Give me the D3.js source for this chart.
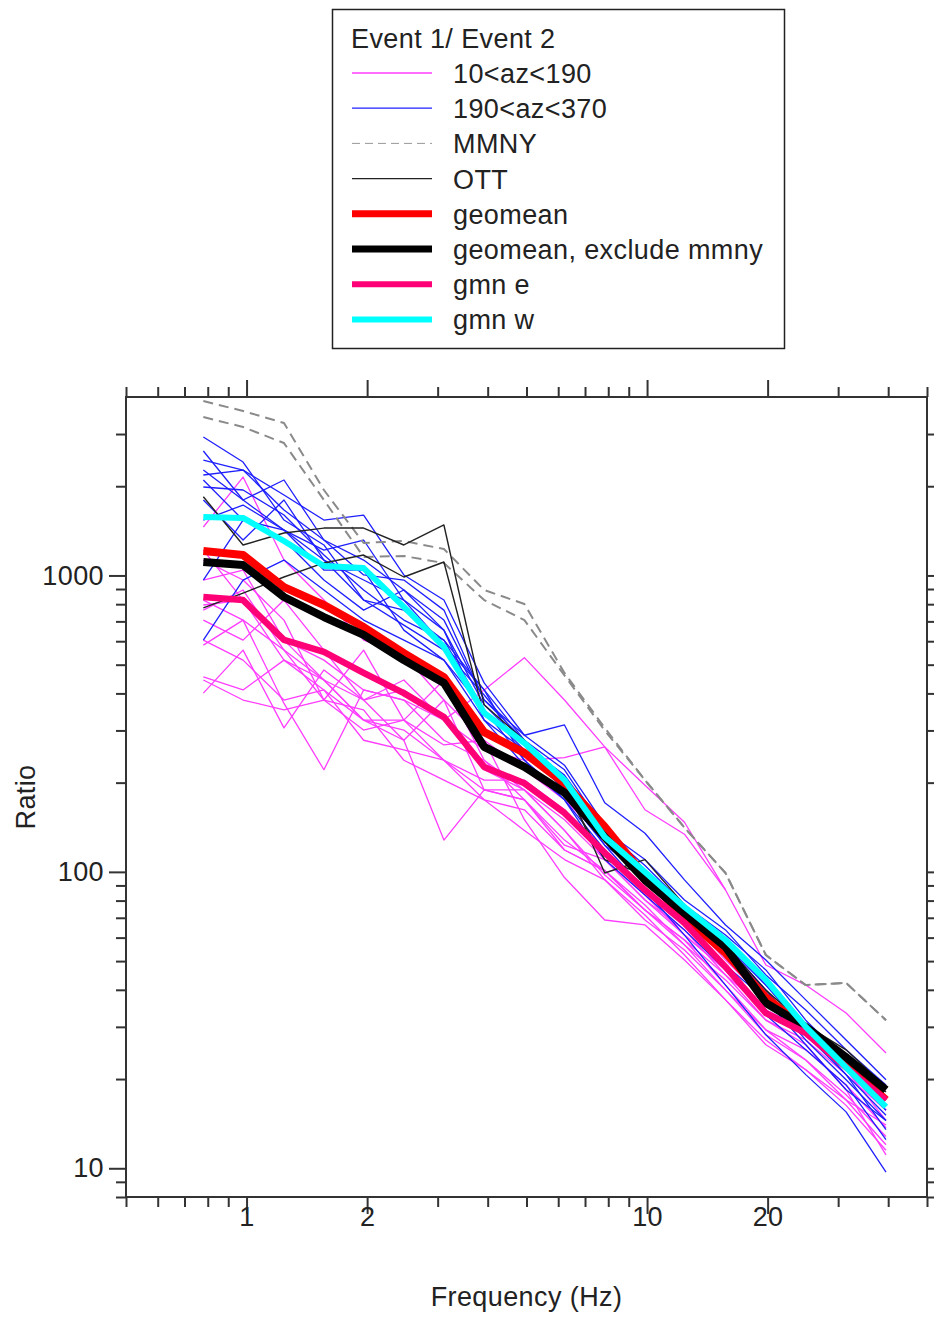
<!DOCTYPE html>
<html>
<head>
<meta charset="utf-8">
<script src="https://cdn.jsdelivr.net/npm/d3@7"></script>
<style>
  body { margin: 0; background: #fff; }
  svg text { font-family: "Liberation Sans", Arial, sans-serif; font-size: 27px; fill: #222; letter-spacing: 0.4px; }
</style>
</head>
<body>
<div id="chart"></div>
<script>
// frequencies (Hz) of every spectral ratio point
const freqs = [0.78, 0.98, 1.24, 1.56, 1.96, 2.47, 3.11, 3.92, 4.94, 6.22, 7.84, 9.88, 12.4, 15.7, 19.8, 24.9, 31.4, 39.5];

// stations 10<az<190
const az10to190 = [
  [1457, 2148, 1127, 826, 605, 538, 380, 278, 221, 175, 128, 94, 71.5, 50.4, 37.0, 30.4, 23.2, 17.0],
  [1127, 965, 707, 380, 560, 325, 444, 238, 189, 150, 110, 80.4, 63.7, 44.9, 31.6, 27.1, 20.7, 15.7],
  [795, 826, 518, 411, 325, 278, 380, 189, 175, 118.5, 101, 74.3, 58.9, 41.5, 29.3, 25.1, 19.1, 13.7],
  [707, 605, 826, 560, 380, 444, 325, 221, 189, 138, 94, 68.8, 54.5, 39.9, 28.2, 23.2, 17.7, 12.8],
  [582, 707, 370, 221, 411, 380, 278, 238, 175, 128, 101, 77.3, 56.7, 43.2, 31.6, 26.1, 18.4, 11.1],
  [455, 411, 518, 444, 325, 325, 238, 204, 204, 162, 110, 83.6, 61.2, 46.7, 32.9, 28.2, 21.5, 14.5],
  [401, 560, 306, 480, 380, 278, 128, 189, 189, 138, 97.6, 74.3, 56.7, 39.9, 29.3, 23.2, 17.0, 12.0],
  [965, 1043, 605, 518, 411, 380, 325, 411, 528, 380, 264, 196, 147, 86.9],
  [764, 893, 560, 444, 380, 411, 325, 258, 238, 243, 264, 162, 134, 86.9, 48.5, 41.5, 33.4, 24.5],
  [605, 518, 380, 411, 278, 258, 238, 175, 162, 118.5, 101, 74.3, 58.9, 44.9, 34.2, 29.3, 22.3, 17.0],
  [826, 707, 560, 380, 352, 238, 204, 175, 138, 110, 94, 71.5, 52.4, 37.0, 27.1, 21.5, 16.3, 11.5],
  [444, 380, 352, 380, 301, 325, 268, 278, 150, 95.7, 68.8, 66.2, 50.4, 37.0, 26.1, 21.5, 17.0, 14.0],
  [1218, 826, 605, 444, 325, 301, 238, 189, 175, 123, 110, 80.4, 61.2, 46.7, 34.2, 29.3, 21.5, 15.7]
];

// stations 190<az<370
const az190to370 = [
  [2931, 2413, 1538, 1267, 826, 764, 605, 411, 278, 221, 138, 110, 80.4, 63.7, 44.9, 34.2, 25.1, 19.1],
  [2630, 1797, 2099, 1317, 1127, 893, 707, 380, 289, 229, 144, 101, 77.3, 61.2, 46.7, 31.6, 23.2, 17.0],
  [2182, 2268, 1868, 1538, 1599, 1004, 826, 434, 289, 313, 171, 135, 94, 66.2, 50.4, 37.0, 27.1, 19.9],
  [2099, 1538, 1423, 1127, 965, 826, 654, 366, 268, 212, 138, 101, 77.3, 58.9, 41.5, 29.3, 21.5, 15.7],
  [1988, 1942, 1599, 1172, 893, 707, 605, 352, 258, 189, 128, 94, 74.3, 56.7, 39.9, 28.2, 20.7, 15.1],
  [1797, 1317, 1797, 1127, 826, 680, 560, 395, 268, 189, 123, 97.6, 71.5, 54.5, 38.4, 27.1, 19.9, 14.5],
  [965, 1538, 1317, 965, 764, 893, 654, 325, 258, 196, 138, 105, 77.3, 56.7, 41.5, 29.3, 20.7, 13.5],
  [605, 965, 1127, 893, 707, 605, 518, 352, 238, 175, 118.5, 86.9, 61.2, 41.5, 28.2, 20.7, 15.5, 9.7],
  [2451, 2268, 1662, 1317, 1004, 965, 764, 380, 278, 204, 133, 97.6, 71.5, 54.5, 39.9, 28.2, 21.5, 16.3],
  [2268, 1797, 1423, 1218, 1317, 826, 582, 411, 238, 182, 123, 86.9, 66.2, 48.5, 37.0, 26.1, 18.4, 14.5],
  [1538, 1728, 1423, 1043, 1043, 654, 518, 325, 229, 175, 110, 83.6, 63.7, 46.7, 32.9, 25.1, 19.1, 12.5]
];

const mmny = [
  [3877, 3587, 3268, 1942, 1287, 1307, 1228, 893, 801, 469, 306, 204, 141, 99.1, 52.4, 41.5, 42.2, 31.6],
  [3424, 3168, 2797, 1797, 1154, 1163, 1101, 826, 707, 460, 300, 204, 141, 99.1, 52.4, 41.5, 42.2, 31.6]
];

const ott = [
  [1843, 1267, 1391, 1445, 1445, 1267, 1480, 366, 278, 204, 99.1, 110, 77.3, 56.6, 39.9, 30.4, 25.1, 18.8],
  [777, 872, 988, 1102, 1172, 988, 1110, 338, 268, 189, 110, 97.6, 74.3, 54.5, 38.4, 29.3, 24.1, 18.1]
];

const geomean = [1209, 1172, 914, 795, 670, 547, 454, 296, 252, 199, 142, 96.8, 70.4, 53.2, 37.8, 29.3, 22.6, 17.0];
const geomeanNoMmny = [1110, 1084, 846, 724, 630, 518, 434, 264, 226, 185, 131, 93.8, 72.6, 55.8, 36.1, 30.0, 23.7, 18.4];
const gmnE = [846, 826, 606, 552, 469, 401, 333, 226, 199, 158, 116, 86.8, 67.2, 47.8, 33.4, 28.6, 21.9, 17.0];
const gmnW = [1574, 1563, 1307, 1076, 1059, 783, 574, 344, 272, 204, 131, 99.9, 76.1, 58.9, 43.2, 30.0, 21.9, 16.1];

const legendTitle = "Event 1/ Event 2";
const legendLabels = ["10<az<190", "190<az<370", "MMNY", "OTT", "geomean", "geomean, exclude mmny", "gmn e", "gmn w"];

const xMajor = [1, 2, 10, 20];
const xMinor = [0.5, 0.6, 0.7, 0.8, 0.9, 3, 4, 5, 6, 7, 8, 9, 30, 40, 50];
const yMajor = [10, 100, 1000];
const yMinor = [8, 9, 20, 30, 40, 50, 60, 70, 80, 90, 200, 300, 400, 500, 600, 700, 800, 900, 2000, 3000];

const width = 934, height = 1319;
const plot = { left: 126, top: 397, right: 927, bottom: 1197 };

const svg = d3.select("#chart").append("svg")
  .attr("width", width)
  .attr("height", height);

svg.append("rect").attr("width", width).attr("height", height).attr("fill", "#fff");

const x = d3.scaleLog().domain([0.5, 50]).range([plot.left, plot.right]);
const y = d3.scaleLog().domain([8, 4000]).range([plot.bottom, plot.top]);

const line = d3.line().x(d => x(d[0])).y(d => y(d[1]));
const pts = vals => vals.map((v, i) => [freqs[i], v]);

const lines = svg.append("g")
  .attr("fill", "none")
  .attr("stroke-linejoin", "round");

function drawSeries(data, color, w, dash) {
  lines.append("g").selectAll("path")
    .data(data)
    .join("path")
    .attr("d", d => line(pts(d)))
    .attr("stroke", color)
    .attr("stroke-width", w)
    .attr("stroke-dasharray", dash || null);
}

drawSeries(az10to190, "#ff3cff", 1.3);
drawSeries(az190to370, "#1f1fff", 1.3);
drawSeries(mmny, "#8a8a8a", 2, "10,6");
drawSeries(ott, "#222", 1.4);
drawSeries([geomean], "#ff0000", 8);
drawSeries([geomeanNoMmny], "#000", 8);
drawSeries([gmnE], "#ff0077", 6.5);
drawSeries([gmnW], "#00ffff", 6);

// frame
svg.append("rect")
  .attr("x", plot.left).attr("y", plot.top)
  .attr("width", plot.right - plot.left).attr("height", plot.bottom - plot.top)
  .attr("fill", "none").attr("stroke", "#333").attr("stroke-width", 2);

function styleAxis(g) {
  g.select(".domain").remove();
  g.selectAll(".tick line").attr("stroke", "#333").attr("stroke-width", 2);
  g.selectAll("text").attr("fill", "#222").attr("font-size", null).attr("font-family", null);
}

const h = plot.bottom;
// bottom
svg.append("g").attr("transform", `translate(0,${h})`)
  .call(d3.axisBottom(x).tickValues(xMinor).tickSize(10).tickFormat(""))
  .call(styleAxis);
svg.append("g").attr("transform", `translate(0,${h})`)
  .call(d3.axisBottom(x).tickValues(xMajor).tickSize(17).tickPadding(-7).tickFormat(d3.format("d")))
  .call(styleAxis);
// top
svg.append("g").attr("transform", `translate(0,${plot.top})`)
  .call(d3.axisTop(x).tickValues(xMinor).tickSize(10).tickFormat(""))
  .call(styleAxis);
svg.append("g").attr("transform", `translate(0,${plot.top})`)
  .call(d3.axisTop(x).tickValues(xMajor).tickSize(17).tickFormat(""))
  .call(styleAxis);
// left
svg.append("g").attr("transform", `translate(${plot.left},0)`)
  .call(d3.axisLeft(y).tickValues(yMinor).tickSize(10).tickFormat(""))
  .call(styleAxis);
svg.append("g").attr("transform", `translate(${plot.left},0)`)
  .call(d3.axisLeft(y).tickValues(yMajor).tickSize(17).tickPadding(5).tickFormat(d3.format("d")))
  .call(styleAxis);
// right
svg.append("g").attr("transform", `translate(${plot.right},0)`)
  .call(d3.axisRight(y).tickValues(yMinor.concat(yMajor)).tickSize(10).tickFormat(""))
  .call(styleAxis);

// axis titles
svg.append("text")
  .attr("x", (plot.left + plot.right) / 2)
  .attr("y", 1306)
  .attr("text-anchor", "middle")
  .text("Frequency (Hz)");

svg.append("text")
  .attr("transform", "rotate(-90)")
  .attr("x", -(plot.top + plot.bottom) / 2)
  .attr("y", 35)
  .attr("text-anchor", "middle")
  .text("Ratio");

// legend
const legend = svg.append("g");
legend.append("rect")
  .attr("x", 332.5).attr("y", 9.5)
  .attr("width", 452).attr("height", 339)
  .attr("fill", "#fff").attr("stroke", "#222").attr("stroke-width", 1.5);

legend.append("text").attr("x", 351).attr("y", 48).text(legendTitle);

const legendStyles = [
  { color: "#ff3cff", w: 1.3 },
  { color: "#1f1fff", w: 1.3 },
  { color: "#999", w: 1, dash: "8,5" },
  { color: "#222", w: 1.4 },
  { color: "#ff0000", w: 7 },
  { color: "#000", w: 7 },
  { color: "#ff0077", w: 6 },
  { color: "#00ffff", w: 6 }
];

const items = legend.selectAll("g.item")
  .data(legendLabels)
  .join("g")
  .attr("class", "item")
  .attr("transform", (d, i) => `translate(0,${73 + i * 35.2})`);

items.append("line")
  .attr("x1", 352).attr("x2", 432)
  .attr("stroke", (d, i) => legendStyles[i].color)
  .attr("stroke-width", (d, i) => legendStyles[i].w)
  .attr("stroke-dasharray", (d, i) => legendStyles[i].dash || null);

items.append("text")
  .attr("x", 453).attr("y", 10)
  .text(d => d);
</script>
</body>
</html>
